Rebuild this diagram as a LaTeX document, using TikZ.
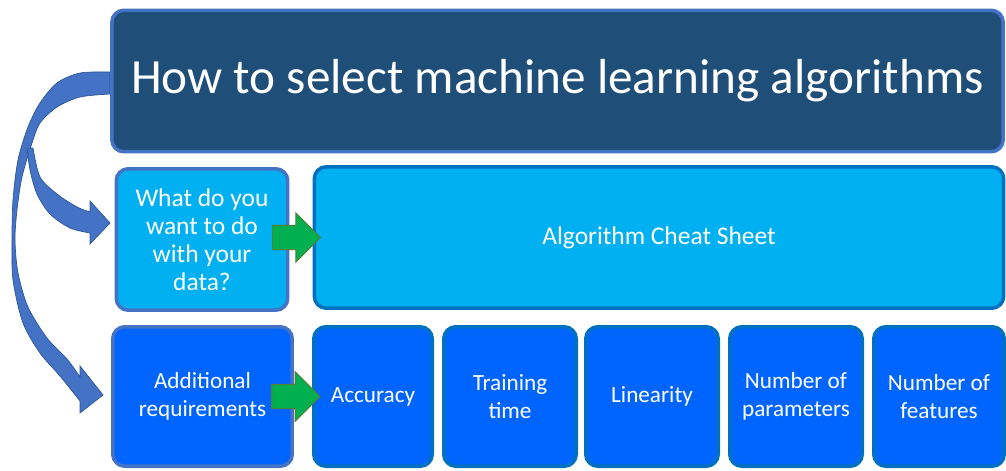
\documentclass[tikz,border=0pt]{standalone}
\usepackage{fontspec}
\setmainfont{Carlito}
\usetikzlibrary{shapes.arrows}

\definecolor{titlefill}{HTML}{1F4E79}
\definecolor{lightfill}{HTML}{00B0F0}
\definecolor{deepfill}{HTML}{0064FF}
\definecolor{softedge}{HTML}{4472C4}
\definecolor{hardedge}{HTML}{0070C0}
\definecolor{curvefill}{HTML}{4472C4}
\definecolor{curveedge}{HTML}{2F5597}
\definecolor{gofill}{HTML}{00B050}
\definecolor{goedge}{HTML}{538135}

\tikzset{
	box/.style={rounded corners=0.24cm, line width=2pt, text=white, align=center,
		inner sep=0pt, font=\fontsize{13.2}{16}\selectfont},
	titlebox/.style={box, fill=titlefill, draw=softedge, font=\fontsize{28}{34}\selectfont},
	lightbox/.style={box, fill=lightfill, font=\fontsize{14.5}{16}\selectfont},
	deepbox/.style={box, fill=deepfill, minimum height=2.79cm},
	goarrow/.style={single arrow, fill=gofill, draw=goedge, line width=0.6pt,
		inner xsep=0pt, inner ysep=0.23cm,
		minimum height=0.96cm, single arrow head extend=0.25cm},
	curvearrow/.style={fill=curvefill, draw=curveedge, line width=0.4pt}
}

\begin{document}
\begin{tikzpicture}[x=0.02cm, y=-0.02cm]
			\useasboundingbox (0, 0) rectangle (1006, 470);

			%%draw the curved arrows
			\draw[curvearrow] plot[smooth] coordinates {(110, 72) (80, 73) (57, 83) (40, 103) (28, 127) (18, 160) (13, 200) (12, 240) (13, 280) (23, 323) (40, 353) (60, 376) (80, 401)}
				-- (80, 413) -- (103, 395) -- (80, 366)
				-- plot[smooth] coordinates {(80, 377) (67, 359) (47, 338) (28, 307) (18, 273) (15, 240) (17, 210) (22, 177) (32, 143) (40, 123) (57, 107) (80, 97) (110, 94)} -- cycle;
			\draw[curvearrow] plot[smooth] coordinates {(33, 148) (40, 177) (57, 194) (77, 207) (90, 212)}
				-- (90, 201) -- (110, 223) -- (90, 244)
				-- plot[smooth] coordinates {(90, 233) (70, 228) (50, 214) (37, 194) (30, 170) (27, 148)} -- cycle;

			%%draw the title
			\node[titlebox, minimum width=17.83cm, minimum height=2.83cm] (title) at (557.5, 81){How to select machine learning algorithms};

			%%draw the second row
			\node[lightbox, draw=softedge, minimum width=3.43cm, minimum height=2.83cm] (what) at (202, 239.5){What do you\\want to do\\with your\\data?};
			\node[lightbox, draw=hardedge, minimum width=13.79cm, minimum height=2.83cm] (cheat) at (659, 237.5){Algorithm Cheat Sheet};

			%%draw the third row
			\node[deepbox, draw=softedge, minimum width=3.59cm] (extra) at (202.5, 396.5){Additional\\requirements};
			\node[deepbox, draw=hardedge, minimum width=2.37cm] (acc) at (373, 396.5){Accuracy};
			\node[deepbox, draw=hardedge, minimum width=2.65cm] (time) at (510, 396.5){Training\\time};
			\node[deepbox, draw=hardedge, minimum width=2.65cm] (lin) at (652, 396.5){Linearity};
			\node[deepbox, draw=hardedge, minimum width=2.65cm] (params) at (796, 396.5){Number of\\parameters};
			\node[deepbox, draw=hardedge, minimum width=2.61cm] (feats) at (939, 396.5){Number of\\features};

			%%draw the green arrows
			\node[goarrow, anchor=tip] (go1) at ([xshift=0.17cm]cheat.west){};
			\node[goarrow, anchor=tip] (go2) at ([xshift=0.17cm]acc.west){};
		\end{tikzpicture}
\end{document}
